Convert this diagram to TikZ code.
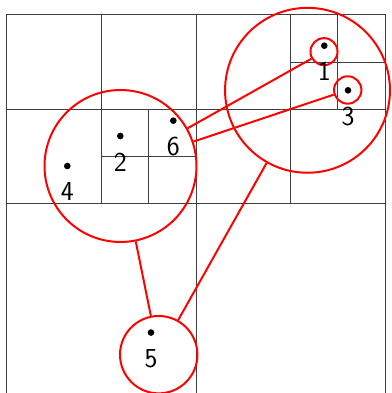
\documentclass[tikz,border=0pt]{standalone}
\usetikzlibrary{positioning}

\begin{document}
\begin{tikzpicture}[
    cellline/.style={black!75, line width=0.6pt},
    ring/.style={circle, draw=red, line width=1.2pt, inner sep=0pt},
    link/.style={red, line width=1.2pt},
    pt/.style={circle, fill=black, inner sep=0pt, minimum size=4pt},
    tag/.style={inner sep=0pt, font=\sffamily\fontsize{16.5}{18}\selectfont}
]
    \useasboundingbox (-0.148,0) rectangle (8.148,8.317);
    \draw[cellline] (0,0) rectangle (8,8);
    \draw[cellline] (4,0) -- (4,8);
    \draw[cellline] (0,4) -- (8,4);
    \draw[cellline] (2,4) -- (2,8);
    \draw[cellline] (0,6) -- (4,6);
    \draw[cellline] (6,4) -- (6,8);
    \draw[cellline] (4,6) -- (8,6);
    \draw[cellline] (3,4) -- (3,6);
    \draw[cellline] (2,5) -- (4,5);
    \draw[cellline] (7,6) -- (7,8);
    \draw[cellline] (6,7) -- (8,7);
    \node[ring, minimum size=3.216cm] (cl) at (2.402,4.804) {};
    \node[ring, minimum size=3.49cm] (cr) at (6.36,6.406) {};
    \node[ring, minimum size=0.572cm] (c1) at (6.709,7.224) {};
    \node[ring, minimum size=0.58cm] (c3) at (7.211,6.413) {};
    \node[ring, minimum size=1.638cm] (c5) at (3.211,0.811) {};
    \draw[link] (c1) -- (cl);
    \draw[link] (c3) -- (cl);
    \draw[link] (cl) -- (c5);
    \draw[link] (cr) -- (c5);
    \node[pt] (p1) at (6.715,7.350) {};
    \node[pt] (p2) at (2.398,5.439) {};
    \node[pt] (p3) at (7.217,6.406) {};
    \node[pt] (p4) at (1.276,4.804) {};
    \node[pt] (p5) at (3.048,1.279) {};
    \node[pt] (p6) at (3.520,5.763) {};
    \node[tag, below=7.6pt of p1] (t1) {1};
    \node[tag, below=7.6pt of p2] (t2) {2};
    \node[tag, below=7.6pt of p3] (t3) {3};
    \node[tag, below=7.6pt of p4] (t4) {4};
    \node[tag, below=7.6pt of p5] (t5) {5};
    \node[tag, below=7.6pt of p6] (t6) {6};
\end{tikzpicture}
\end{document}
